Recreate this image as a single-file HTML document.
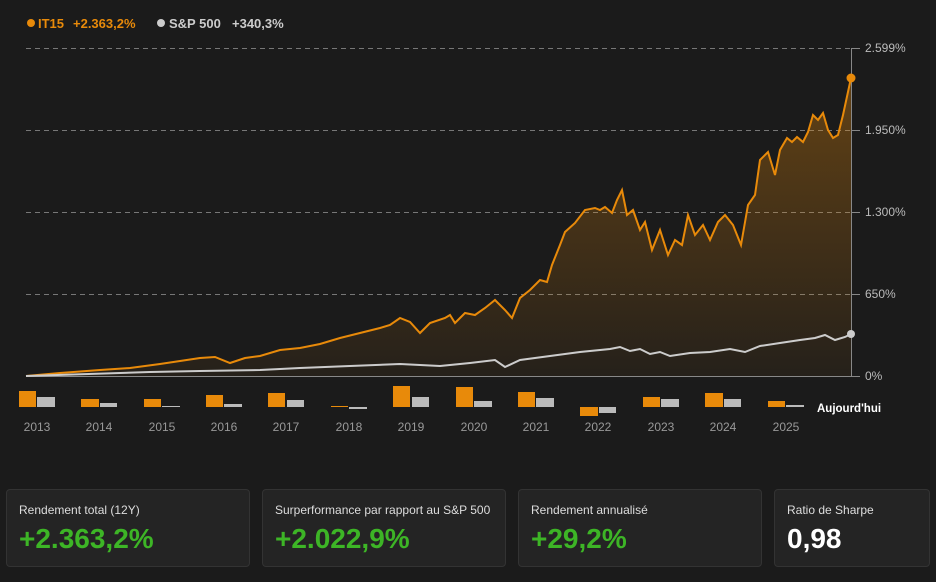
<!DOCTYPE html>
<html><head><meta charset="utf-8"><style>
body{margin:0;background:#1b1b1b;font-family:"Liberation Sans",sans-serif;}
.w{position:relative;width:936px;height:582px;overflow:hidden;background:#1b1b1b}
.card{position:absolute;top:489px;height:78px;background:#242424;border:1px solid #333;border-radius:4px;box-sizing:border-box}
.card .t{position:absolute;left:12px;top:13px;color:#ddd;font-size:12px}
.card .v{position:absolute;left:12px;top:33px;font-size:28px;font-weight:bold;color:#3db526}
</style></head><body><div class="w">
<svg width="936" height="582" style="position:absolute;left:0;top:0">
<defs><linearGradient id="g" x1="0" y1="0" x2="0" y2="1"><stop offset="0" stop-color="#e88a0a" stop-opacity="0.35"/><stop offset="1" stop-color="#e88a0a" stop-opacity="0.05"/></linearGradient></defs>
<g stroke="#777" stroke-dasharray="5,4" stroke-width="1">
<line x1="26" y1="48.5" x2="851" y2="48.5"/><line x1="26" y1="130.5" x2="851" y2="130.5"/><line x1="26" y1="212.5" x2="851" y2="212.5"/><line x1="26" y1="294.5" x2="851" y2="294.5"/></g>
<line x1="851.5" y1="48" x2="851.5" y2="376" stroke="#888"/>
<g stroke="#888"><line x1="851" y1="48.5" x2="860" y2="48.5"/><line x1="851" y1="130.5" x2="860" y2="130.5"/><line x1="851" y1="212.5" x2="860" y2="212.5"/><line x1="851" y1="294.5" x2="860" y2="294.5"/><line x1="851" y1="376.5" x2="860" y2="376.5"/></g>
<line x1="26" y1="376.5" x2="851" y2="376.5" stroke="#888"/>
<g fill="#bbb" font-size="12"><text x="865" y="52">2.599%</text><text x="865" y="134">1.950%</text><text x="865" y="216">1.300%</text><text x="865" y="298">650%</text><text x="865" y="380">0%</text></g>
<path fill="url(#g)" d="M26,376 L60,373 L100,370 L130,368 L160,364 L180,361 L200,358 L215,357 L230,363 L245,358 L260,356 L280,350 L300,348 L320,344 L340,338 L360,333 L380,328 L390,325 L400,318 L410,322 L420,333 L430,323 L445,318 L450,315 L455,323 L465,313 L475,315 L485,308 L495,300 L505,310 L512,318 L520,298 L530,290 L540,280 L547,282 L552,265 L560,245 L565,232 L575,223 L585,210 L595,208 L600,210 L605,207 L612,213 L617,200 L622,190 L627,215 L633,210 L640,230 L645,222 L652,250 L660,230 L668,255 L675,240 L682,245 L688,215 L695,235 L703,225 L710,240 L718,222 L725,215 L733,225 L741,245 L748,205 L755,195 L760,160 L768,152 L775,175 L780,150 L787,138 L792,142 L797,137 L803,142 L808,132 L813,115 L818,120 L823,113 L828,130 L833,138 L838,135 L843,115 L851,78 L851,376 Z"/>
<path fill="none" stroke="#e88a0a" stroke-width="2" d="M26,376 L60,373 L100,370 L130,368 L160,364 L180,361 L200,358 L215,357 L230,363 L245,358 L260,356 L280,350 L300,348 L320,344 L340,338 L360,333 L380,328 L390,325 L400,318 L410,322 L420,333 L430,323 L445,318 L450,315 L455,323 L465,313 L475,315 L485,308 L495,300 L505,310 L512,318 L520,298 L530,290 L540,280 L547,282 L552,265 L560,245 L565,232 L575,223 L585,210 L595,208 L600,210 L605,207 L612,213 L617,200 L622,190 L627,215 L633,210 L640,230 L645,222 L652,250 L660,230 L668,255 L675,240 L682,245 L688,215 L695,235 L703,225 L710,240 L718,222 L725,215 L733,225 L741,245 L748,205 L755,195 L760,160 L768,152 L775,175 L780,150 L787,138 L792,142 L797,137 L803,142 L808,132 L813,115 L818,120 L823,113 L828,130 L833,138 L838,135 L843,115 L851,78"/>
<path fill="none" stroke="#ccc" stroke-width="2" d="M26,376 L150,372 L200,371 L260,370 L300,368 L350,366 L400,364 L440,366 L470,363 L495,360 L505,367 L520,360 L550,356 L580,352 L610,349 L620,347 L630,351 L640,349 L650,354 L660,352 L670,356 L690,353 L710,352 L730,349 L745,352 L760,346 L780,343 L800,340 L815,338 L825,335 L835,340 L845,337 L851,334"/>
<circle cx="851" cy="78" r="4.5" fill="#e88a0a"/><circle cx="851" cy="334" r="4" fill="#ccc"/>
<g fill="#e88a0a">
<rect x="19" y="391" width="17" height="16"/><rect x="81" y="399" width="18" height="8"/><rect x="144" y="399" width="17" height="8"/><rect x="206" y="395" width="17" height="12"/><rect x="268" y="393" width="17" height="14"/><rect x="331" y="406" width="17" height="1"/><rect x="393" y="386" width="17" height="21"/><rect x="456" y="387" width="17" height="20"/><rect x="518" y="392" width="17" height="15"/><rect x="580" y="407" width="18" height="9"/><rect x="643" y="397" width="17" height="10"/><rect x="705" y="393" width="18" height="14"/><rect x="768" y="401" width="17" height="6"/></g>
<g fill="#bbb">
<rect x="37" y="397" width="18" height="10"/><rect x="100" y="403" width="17" height="4"/><rect x="162" y="406" width="18" height="1"/><rect x="224" y="404" width="18" height="3"/><rect x="287" y="400" width="17" height="7"/><rect x="349" y="407" width="18" height="2"/><rect x="412" y="397" width="17" height="10"/><rect x="474" y="401" width="18" height="6"/><rect x="536" y="398" width="18" height="9"/><rect x="599" y="407" width="17" height="6"/><rect x="661" y="399" width="18" height="8"/><rect x="724" y="399" width="17" height="8"/><rect x="786" y="405" width="18" height="2"/></g>
<g fill="#999" font-size="12" text-anchor="middle">
<text x="37" y="431">2013</text><text x="99" y="431">2014</text><text x="162" y="431">2015</text><text x="224" y="431">2016</text><text x="286" y="431">2017</text><text x="349" y="431">2018</text><text x="411" y="431">2019</text><text x="474" y="431">2020</text><text x="536" y="431">2021</text><text x="598" y="431">2022</text><text x="661" y="431">2023</text><text x="723" y="431">2024</text><text x="786" y="431">2025</text></g>
<text x="817" y="412" fill="#fff" font-size="11.5" font-weight="bold">Aujourd'hui</text>
<circle cx="31" cy="23" r="4" fill="#e88a0a"/>
<text x="38" y="28" fill="#e88a0a" font-size="13" font-weight="bold">IT15 <tspan x="73">+2.363,2%</tspan></text>
<circle cx="161" cy="23" r="4" fill="#ccc"/>
<text x="169" y="28" fill="#ccc" font-size="13" font-weight="bold">S&amp;P 500 <tspan x="232">+340,3%</tspan></text>
</svg>
<div class="card" style="left:6px;width:244px"><div class="t">Rendement total (12Y)</div><div class="v">+2.363,2%</div></div>
<div class="card" style="left:262px;width:244px"><div class="t">Surperformance par rapport au S&amp;P 500</div><div class="v">+2.022,9%</div></div>
<div class="card" style="left:518px;width:244px"><div class="t">Rendement annualisé</div><div class="v">+29,2%</div></div>
<div class="card" style="left:774px;width:156px"><div class="t">Ratio de Sharpe</div><div class="v" style="color:#fff">0,98</div></div>
</div></body></html>
